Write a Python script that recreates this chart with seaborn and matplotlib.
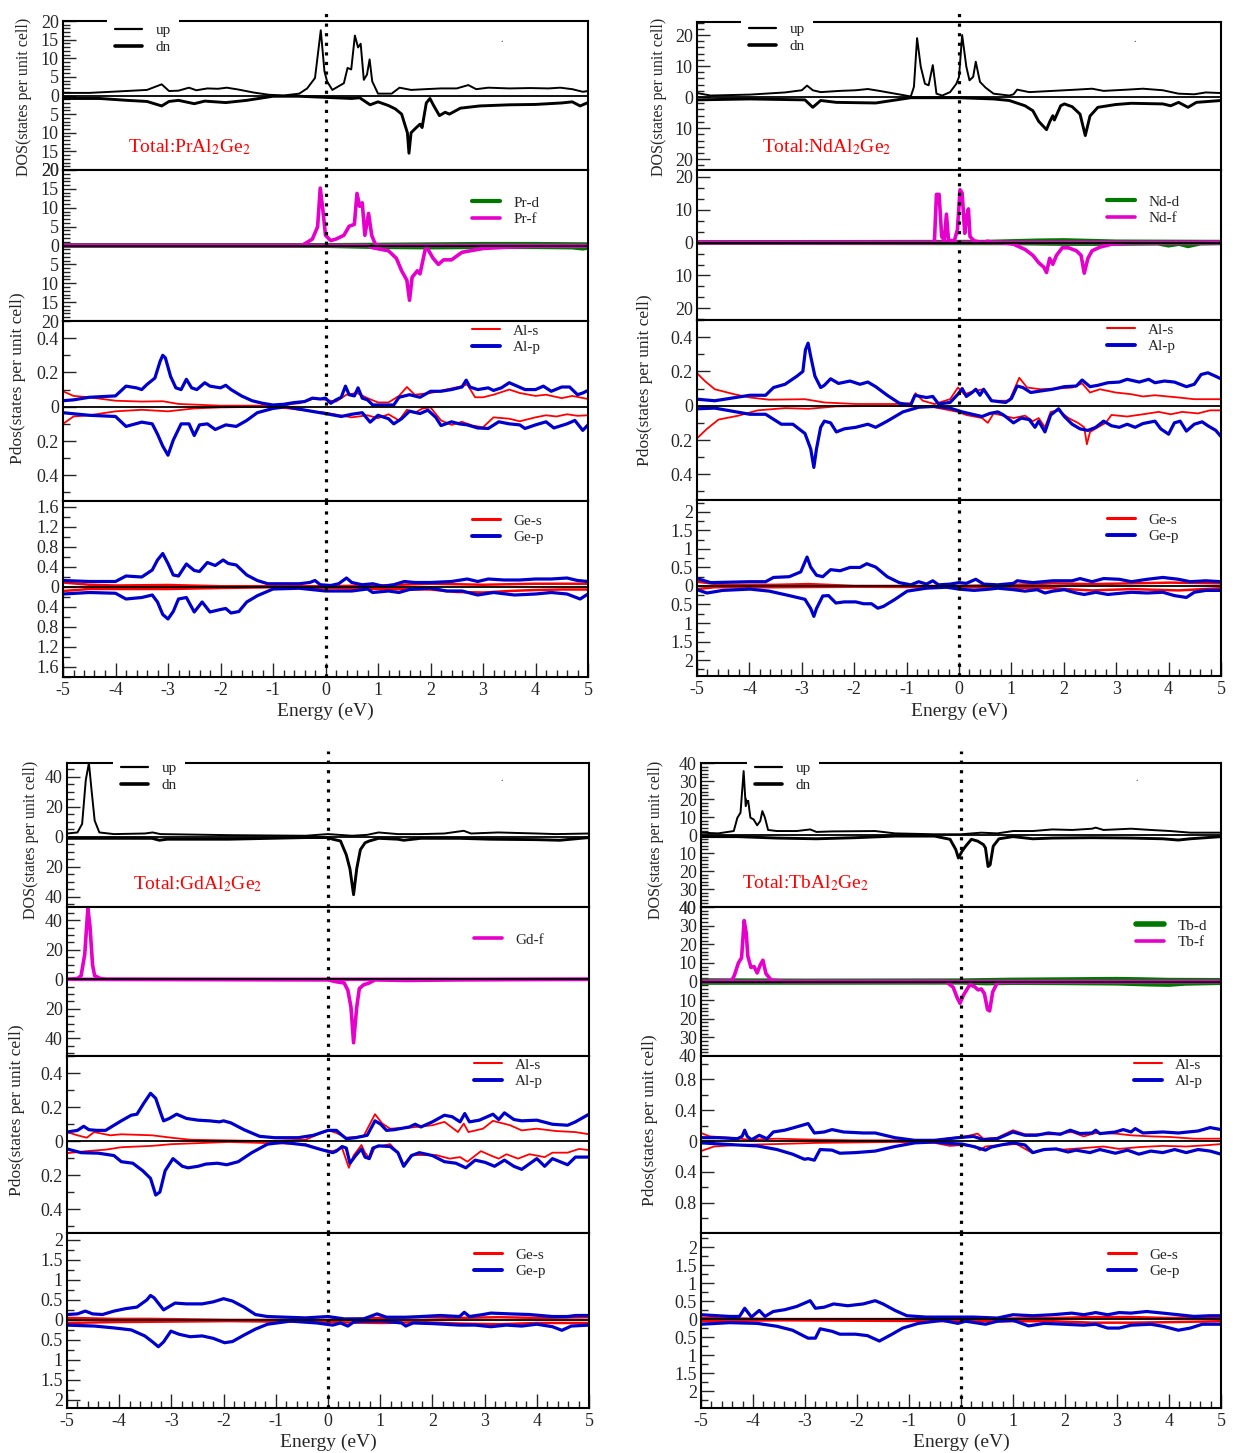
import matplotlib
matplotlib.use("Agg")
import matplotlib.pyplot as plt
from matplotlib.ticker import MultipleLocator, FuncFormatter
from matplotlib.lines import Line2D
import seaborn as sns

sns.set_style("ticks")
plt.rcParams['font.family'] = ['Liberation Serif', 'DejaVu Serif']
plt.rcParams['mathtext.fontset'] = 'stix'
plt.rcParams['axes.unicode_minus'] = False

RED = '#ff0000'
BLUE = '#0000cd'
GREEN = '#007800'
MAG = '#e600cc'

# ---------------- PrAl2Ge2 (energy eV, DOS) ----------------
pr_tot_up = [(-5, 0.7), (-4.5, 0.7), (-3.8, 1.2), (-3.4, 1.5), (-3.12, 3.0), (-2.98, 1.2), (-2.8, 1.3), (-2.6, 2.1),
             (-2.46, 1.4), (-2.25, 1.9), (-2.05, 1.8), (-1.88, 2.1), (-1.66, 1.6), (-1.37, 0.8), (-1.08, 0.2), (-0.8, 0.0),
             (-0.5, 0.5), (-0.35, 1.9), (-0.2, 4.7), (-0.09, 17.5), (-0.02, 6.5), (0.03, 3.8), (0.13, 1.5), (0.24, 2.4),
             (0.35, 3.3), (0.42, 7.4), (0.49, 7.0), (0.56, 16.1), (0.62, 12.9), (0.67, 13.9), (0.73, 4.2), (0.79, 5.6),
             (0.84, 9.7), (0.89, 3.8), (1.0, 0.5), (1.26, 0.5), (1.41, 2.1), (1.63, 1.5), (1.9, 1.7), (2.2, 1.9), (2.5, 1.9),
             (2.72, 2.8), (2.87, 1.7), (3.1, 2.1), (3.5, 1.9), (3.9, 2.0), (4.25, 1.9), (4.47, 2.1), (4.7, 1.7), (4.9, 1.0),
             (5.0, 1.2)]
pr_tot_dn = [(-5, -0.8), (-4.3, -0.8), (-3.78, -1.3), (-3.4, -1.6), (-3.12, -2.8), (-2.98, -1.6), (-2.8, -1.3), (-2.5, -2.2),
             (-2.3, -1.5), (-1.9, -1.9), (-1.5, -1.3), (-1.0, -0.2), (-0.5, -0.2), (0.0, -0.5), (0.5, -0.8), (0.65, -0.6),
             (0.85, -2.5), (1.0, -1.7), (1.2, -2.7), (1.33, -3.6), (1.45, -5.0), (1.52, -8.2), (1.56, -10.0), (1.59, -15.5),
             (1.63, -10.0), (1.73, -8.6), (1.8, -7.7), (1.84, -8.6), (1.92, -2.0), (1.99, -0.8), (2.06, -2.7), (2.17, -5.4),
             (2.28, -4.5), (2.36, -5.0), (2.57, -3.4), (2.94, -2.8), (3.5, -2.5), (4.0, -2.4), (4.5, -2.0), (4.7, -1.7),
             (4.85, -2.8), (5.0, -1.9)]
pr_d_up = [(-5, 0.1), (0, 0.1), (1, 0.2), (2, 0.3), (3, 0.4), (4, 0.4), (5, 0.3)]
pr_d_dn = [(-5, -0.1), (0, -0.1), (1, -0.4), (2, -0.5), (3, -0.4), (4, -0.4), (4.7, -0.5), (4.9, -0.8), (5, -0.6)]
pr_f_up = [(-5, 0), (-0.45, 0), (-0.25, 1.7), (-0.15, 5.0), (-0.1, 15.2), (-0.05, 9.4), (0.0, 2.7), (0.1, 1.3), (0.2, 1.7),
           (0.35, 2.7), (0.45, 5.1), (0.55, 5.6), (0.6, 13.8), (0.65, 10.4), (0.7, 11.3), (0.75, 2.7), (0.82, 8.5),
           (0.88, 2.7), (0.95, 0.3), (1.05, 0), (5, 0)]
pr_f_dn = [(-5, 0), (0.8, 0), (0.9, -0.6), (1.2, -1.4), (1.35, -3.4), (1.45, -6.7), (1.55, -9.2), (1.6, -14.5), (1.65, -8.4),
           (1.75, -6.7), (1.8, -7.5), (1.9, -1.0), (1.95, -1.0), (2.05, -3.4), (2.15, -5.0), (2.25, -3.8), (2.4, -3.8),
           (2.6, -1.8), (3.0, -0.8), (3.5, -0.4), (4.0, -0.2), (5.0, -0.2)]
pr_als_up = [(-5, 0.09), (-4.8, 0.063), (-4.5, 0.055), (-4.0, 0.035), (-3.5, 0.03), (-3.1, 0.032), (-2.8, 0.016), (-2.0, 0.006),
             (-1.0, 0.006), (-0.5, 0.02), (-0.2, 0.05), (0.0, 0.04), (0.2, 0.03), (0.4, 0.07), (0.6, 0.08), (0.8, 0.05),
             (1.0, 0.025), (1.2, 0.025), (1.4, 0.063), (1.55, 0.115), (1.7, 0.07), (2.0, 0.08), (2.3, 0.1), (2.6, 0.12),
             (2.7, 0.13), (2.85, 0.055), (3.0, 0.055), (3.2, 0.07), (3.5, 0.1), (3.7, 0.08), (4.0, 0.063), (4.2, 0.07),
             (4.5, 0.05), (4.7, 0.063), (5.0, 0.045)]
pr_alp_up = [(-5, 0.035), (-4.8, 0.04), (-4.5, 0.055), (-4.0, 0.063), (-3.8, 0.12), (-3.6, 0.11), (-3.5, 0.1), (-3.4, 0.13),
             (-3.25, 0.167), (-3.15, 0.265), (-3.1, 0.3), (-3.05, 0.285), (-2.95, 0.176), (-2.85, 0.11), (-2.75, 0.1),
             (-2.65, 0.16), (-2.55, 0.11), (-2.45, 0.1), (-2.3, 0.14), (-2.2, 0.12), (-2.0, 0.11), (-1.9, 0.125), (-1.8, 0.1),
             (-1.6, 0.063), (-1.4, 0.035), (-1.2, 0.02), (-1.0, 0.01), (-0.8, 0.014), (-0.6, 0.024), (-0.4, 0.03),
             (-0.25, 0.05), (-0.1, 0.045), (0.0, 0.05), (0.1, 0.02), (0.2, 0.04), (0.3, 0.055), (0.38, 0.12), (0.45, 0.07),
             (0.55, 0.063), (0.62, 0.11), (0.7, 0.05), (0.8, 0.04), (0.9, 0.01), (1.3, 0.01), (1.4, 0.055), (1.6, 0.07),
             (1.8, 0.055), (2.0, 0.09), (2.2, 0.09), (2.4, 0.1), (2.6, 0.115), (2.68, 0.155), (2.75, 0.115), (2.9, 0.1),
             (3.1, 0.11), (3.2, 0.095), (3.35, 0.11), (3.5, 0.14), (3.65, 0.12), (3.8, 0.1), (4.0, 0.1), (4.15, 0.12),
             (4.3, 0.09), (4.5, 0.115), (4.65, 0.115), (4.8, 0.07), (4.9, 0.08), (5.0, 0.095)]
pr_als_dn = [(-5, -0.1), (-4.8, -0.057), (-4.5, -0.05), (-4.0, -0.027), (-3.5, -0.018), (-3.0, -0.027), (-2.5, -0.01),
             (-2.0, -0.004), (-1.0, 0.0), (0.0, -0.035), (0.5, -0.062), (0.8, -0.05), (1.0, -0.067), (1.2, -0.044),
             (1.4, -0.08), (1.55, -0.018), (1.7, -0.035), (1.85, -0.01), (2.0, -0.004), (2.2, -0.08), (2.4, -0.106),
             (2.6, -0.088), (2.8, -0.11), (3.0, -0.12), (3.2, -0.062), (3.5, -0.07), (3.7, -0.085), (4.0, -0.062),
             (4.2, -0.05), (4.4, -0.057), (4.6, -0.044), (4.8, -0.053), (5.0, -0.05)]
pr_alp_dn = [(-5, -0.035), (-4.5, -0.05), (-4.0, -0.057), (-3.8, -0.115), (-3.5, -0.09), (-3.3, -0.1), (-3.2, -0.16),
             (-3.1, -0.23), (-3.0, -0.283), (-2.9, -0.195), (-2.75, -0.1), (-2.6, -0.1), (-2.5, -0.168), (-2.4, -0.106),
             (-2.25, -0.1), (-2.1, -0.133), (-1.9, -0.106), (-1.7, -0.115), (-1.5, -0.08), (-1.3, -0.035), (-1.0, -0.01),
             (-0.75, 0.0), (-0.5, -0.014), (-0.2, -0.03), (0.0, -0.04), (0.3, -0.057), (0.5, -0.044), (0.7, -0.035),
             (0.85, -0.09), (1.0, -0.05), (1.2, -0.07), (1.3, -0.1), (1.45, -0.07), (1.6, -0.026), (1.8, -0.04),
             (1.95, -0.02), (2.1, -0.062), (2.2, -0.11), (2.4, -0.088), (2.55, -0.1), (2.7, -0.106), (2.9, -0.124),
             (3.1, -0.127), (3.3, -0.088), (3.5, -0.1), (3.7, -0.106), (3.8, -0.127), (4.0, -0.106), (4.2, -0.088),
             (4.35, -0.124), (4.6, -0.1), (4.75, -0.08), (4.9, -0.138), (5.0, -0.106)]
pr_ges_up = [(-5, 0.09), (-4.5, 0.045), (-4.0, 0.03), (-3.0, 0.04), (-2.0, 0.015), (-1.0, 0.015), (0.0, 0.015), (1.0, 0.03),
             (2.0, 0.065), (3.0, 0.045), (4.0, 0.065), (5.0, 0.065)]
pr_gep_up = [(-5, 0.13), (-4.5, 0.11), (-4.0, 0.11), (-3.8, 0.22), (-3.5, 0.2), (-3.3, 0.34), (-3.2, 0.54), (-3.1, 0.67),
             (-3.0, 0.47), (-2.9, 0.24), (-2.8, 0.22), (-2.65, 0.46), (-2.5, 0.33), (-2.4, 0.31), (-2.25, 0.49), (-2.1, 0.43),
             (-1.95, 0.54), (-1.85, 0.47), (-1.7, 0.44), (-1.5, 0.24), (-1.3, 0.13), (-1.1, 0.065), (-0.5, 0.065),
             (-0.3, 0.09), (-0.2, 0.13), (-0.1, 0.045), (0.1, 0.03), (0.25, 0.065), (0.4, 0.18), (0.5, 0.09), (0.7, 0.045),
             (0.9, 0.065), (1.1, 0.015), (1.3, 0.045), (1.5, 0.11), (1.7, 0.09), (2.0, 0.09), (2.4, 0.11), (2.7, 0.16),
             (2.9, 0.11), (3.1, 0.16), (3.4, 0.14), (3.7, 0.14), (4.0, 0.16), (4.3, 0.16), (4.6, 0.18), (4.8, 0.13),
             (5.0, 0.11)]
pr_ges_dn = [(-5, -0.08), (-4.5, -0.04), (-4.0, -0.04), (-3.0, -0.04), (-2.0, -0.02), (-1.0, -0.005), (0.0, -0.02),
             (1.0, -0.04), (2.0, -0.05), (2.5, -0.1), (3.0, -0.11), (3.5, -0.08), (4.0, -0.06), (4.5, -0.05), (5.0, -0.05)]
pr_gep_dn = [(-5, -0.14), (-4.5, -0.11), (-4.0, -0.125), (-3.8, -0.24), (-3.5, -0.21), (-3.3, -0.16), (-3.2, -0.3),
             (-3.1, -0.55), (-3.0, -0.64), (-2.9, -0.49), (-2.8, -0.24), (-2.65, -0.21), (-2.5, -0.5), (-2.35, -0.3),
             (-2.2, -0.5), (-2.0, -0.45), (-1.9, -0.43), (-1.8, -0.52), (-1.65, -0.49), (-1.5, -0.3), (-1.3, -0.175),
             (-1.0, -0.04), (-0.5, -0.025), (0.0, -0.08), (0.5, -0.08), (0.8, -0.04), (0.9, -0.11), (1.2, -0.08),
             (1.4, -0.11), (1.6, -0.05), (2.0, -0.02), (2.3, -0.08), (2.6, -0.08), (2.9, -0.16), (3.2, -0.11), (3.6, -0.16),
             (4.0, -0.14), (4.3, -0.11), (4.6, -0.14), (4.85, -0.24), (5.0, -0.14)]

# ---------------- NdAl2Ge2 ----------------
nd_tot_up = [(-5, 1.3), (-4.74, 0.5), (-3.99, 0.8), (-3.32, 1.5), (-3.0, 2.2), (-2.9, 3.7), (-2.79, 2.2), (-2.64, 1.6),
             (-2.27, 2.0), (-1.97, 2.2), (-1.74, 2.6), (-1.52, 2.0), (-1.22, 1.1), (-0.92, 0.2), (-0.86, 3.3), (-0.8, 19.0),
             (-0.73, 9.8), (-0.65, 4.3), (-0.58, 3.8), (-0.5, 10.3), (-0.43, 1.1), (-0.32, 0.5), (-0.17, 1.6), (-0.05, 4.3),
             (0.0, 6.5), (0.06, 20.0), (0.14, 9.8), (0.2, 5.4), (0.27, 6.5), (0.32, 11.4), (0.4, 4.9), (0.51, 3.0),
             (0.66, 1.1), (0.96, 0.5), (1.04, 0.9), (1.11, 2.4), (1.34, 1.6), (1.79, 2.0), (2.24, 2.4), (2.54, 2.7),
             (2.76, 2.0), (3.21, 2.4), (3.51, 2.7), (3.89, 2.2), (4.19, 1.1), (4.49, 0.9), (4.71, 1.5), (5.0, 1.3)]
nd_tot_dn = [(-5, -0.9), (-3.99, -0.6), (-2.94, -0.9), (-2.79, -3.3), (-2.64, -1.1), (-2.34, -1.7), (-1.59, -1.9),
             (-0.92, -0.2), (0.0, -0.2), (0.66, -0.6), (0.96, -1.1), (1.26, -2.8), (1.41, -4.4), (1.52, -7.8), (1.67, -10.5),
             (1.73, -8.0), (1.79, -6.0), (1.82, -7.4), (1.94, -2.8), (2.01, -2.2), (2.16, -3.1), (2.31, -5.5), (2.41, -12.4),
             (2.5, -6.1), (2.65, -3.3), (2.99, -2.4), (3.29, -2.0), (3.89, -2.2), (4.04, -2.8), (4.19, -1.7), (4.37, -3.3),
             (4.53, -1.7), (5.0, -1.1)]
nd_d_up = [(-5, 0.1), (0.5, 0.2), (1.0, 0.4), (1.5, 0.6), (2.0, 0.7), (2.5, 0.5), (3.0, 0.3), (5.0, 0.2)]
nd_d_dn = [(-5, -0.1), (1.0, -0.2), (2.0, -0.4), (3.0, -0.4), (3.8, -0.3), (4.0, -0.9), (4.2, -0.4), (4.37, -1.1),
           (4.6, -0.3), (5.0, -0.2)]
nd_f_up = [(-5, 0), (-0.47, 0), (-0.43, 14.6), (-0.38, 14.6), (-0.33, 1.8), (-0.28, 0.7), (-0.24, 8.6), (-0.2, 0.7),
           (-0.09, 0.5), (-0.03, 3.9), (0.02, 16.0), (0.06, 15.0), (0.11, 2.8), (0.15, 8.1), (0.18, 10.2), (0.21, 1.8),
           (0.29, 0.5), (0.44, 0), (0.55, 0.4), (0.65, 0), (5, 0)]
nd_f_dn = [(-5, 0), (0.81, 0), (1.04, -0.5), (1.26, -2.1), (1.41, -3.9), (1.52, -6.1), (1.62, -7.5), (1.67, -9.1),
           (1.73, -4.8), (1.79, -6.6), (1.86, -3.9), (1.97, -1.6), (2.09, -1.6), (2.24, -2.5), (2.33, -3.9), (2.39, -9.3),
           (2.46, -4.8), (2.54, -2.5), (2.69, -1.4), (2.91, -0.5), (3.29, -0.1), (5, 0)]
nd_als_up = [(-5, 0.19), (-4.85, 0.144), (-4.66, 0.096), (-4.29, 0.067), (-3.99, 0.048), (-3.62, 0.035), (-2.94, 0.038),
             (-2.57, 0.019), (-1.97, 0.01), (-1.22, 0.01), (-0.92, 0.015), (-0.83, 0.073), (-0.69, 0.029), (-0.47, 0.01),
             (-0.17, 0.038), (-0.02, 0.106), (0.1, 0.067), (0.29, 0.086), (0.47, 0.096), (0.62, 0.029), (0.96, 0.029),
             (1.15, 0.163), (1.3, 0.106), (1.56, 0.096), (1.86, 0.1), (2.16, 0.106), (2.35, 0.13), (2.5, 0.077),
             (2.69, 0.096), (2.99, 0.077), (3.29, 0.067), (3.51, 0.054), (3.74, 0.061), (4.19, 0.048), (4.49, 0.038),
             (5.0, 0.038)]
nd_alp_up = [(-5, 0.038), (-4.66, 0.029), (-3.99, 0.061), (-3.69, 0.061), (-3.54, 0.106), (-3.32, 0.125), (-3.09, 0.173),
             (-2.98, 0.2), (-2.93, 0.327), (-2.88, 0.365), (-2.83, 0.288), (-2.75, 0.173), (-2.64, 0.106), (-2.57, 0.119),
             (-2.45, 0.157), (-2.3, 0.13), (-2.08, 0.144), (-1.89, 0.125), (-1.74, 0.138), (-1.59, 0.111), (-1.37, 0.061),
             (-1.14, 0.015), (-0.92, 0.004), (-0.84, 0.061), (-0.73, 0.054), (-0.62, 0.048), (-0.5, 0.054), (-0.39, 0.01),
             (-0.17, 0.019), (-0.02, 0.067), (0.06, 0.1), (0.14, 0.054), (0.25, 0.077), (0.32, 0.096), (0.4, 0.061),
             (0.47, 0.096), (0.62, 0.029), (0.89, 0.019), (1.0, 0.042), (1.11, 0.115), (1.22, 0.106), (1.37, 0.077),
             (1.56, 0.086), (1.79, 0.096), (2.01, 0.111), (2.24, 0.115), (2.35, 0.15), (2.5, 0.111), (2.65, 0.119),
             (2.84, 0.134), (3.06, 0.138), (3.21, 0.154), (3.44, 0.138), (3.62, 0.154), (3.74, 0.134), (3.92, 0.144),
             (4.11, 0.138), (4.34, 0.111), (4.49, 0.125), (4.62, 0.182), (4.75, 0.192), (4.86, 0.177), (5.0, 0.157)]
nd_als_dn = [(-5, -0.19), (-4.81, -0.135), (-4.59, -0.081), (-4.21, -0.058), (-3.84, -0.027), (-3.32, -0.014),
             (-2.87, -0.018), (-2.34, -0.004), (-1.22, 0.0), (-0.47, -0.009), (-0.02, -0.036), (0.14, -0.054),
             (0.44, -0.072), (0.55, -0.1), (0.66, -0.045), (1.04, -0.072), (1.26, -0.058), (1.41, -0.09), (1.52, -0.072),
             (1.64, -0.126), (1.75, -0.036), (1.9, -0.027), (2.09, -0.072), (2.27, -0.1), (2.39, -0.126), (2.44, -0.225),
             (2.5, -0.153), (2.65, -0.126), (2.8, -0.1), (2.91, -0.054), (3.21, -0.063), (3.51, -0.05), (3.81, -0.036),
             (4.04, -0.05), (4.26, -0.036), (4.56, -0.045), (4.79, -0.027), (5.0, -0.027)]
nd_alp_dn = [(-5, -0.018), (-4.66, -0.014), (-3.99, -0.05), (-3.69, -0.05), (-3.39, -0.108), (-3.17, -0.108),
             (-2.94, -0.162), (-2.83, -0.252), (-2.77, -0.36), (-2.72, -0.252), (-2.64, -0.126), (-2.57, -0.09),
             (-2.45, -0.1), (-2.34, -0.153), (-2.19, -0.135), (-1.97, -0.126), (-1.74, -0.108), (-1.59, -0.126),
             (-1.37, -0.09), (-1.07, -0.036), (-0.77, -0.009), (-0.47, -0.004), (-0.17, -0.014), (0.06, -0.036),
             (0.44, -0.063), (0.59, -0.045), (0.74, -0.036), (0.85, -0.054), (1.04, -0.1), (1.19, -0.072), (1.34, -0.081),
             (1.45, -0.126), (1.52, -0.09), (1.64, -0.153), (1.75, -0.054), (1.9, -0.018), (2.01, -0.063), (2.16, -0.108),
             (2.31, -0.135), (2.46, -0.144), (2.61, -0.126), (2.76, -0.09), (2.91, -0.117), (3.06, -0.126), (3.21, -0.108),
             (3.36, -0.126), (3.51, -0.104), (3.74, -0.09), (3.85, -0.135), (4.0, -0.166), (4.11, -0.1), (4.22, -0.09),
             (4.34, -0.148), (4.49, -0.108), (4.64, -0.094), (4.75, -0.117), (4.9, -0.144), (5.0, -0.18)]
nd_ges_up = [(-5, 0.115), (-4.51, 0.03), (-3.5, 0.03), (-2.87, 0.05), (-2.0, 0.0), (0.0, 0.0), (1.04, 0.03), (1.79, 0.07),
             (2.54, 0.05), (3.29, 0.07), (4.04, 0.09), (5.0, 0.07)]
nd_gep_up = [(-5, 0.2), (-4.74, 0.09), (-3.99, 0.115), (-3.69, 0.115), (-3.54, 0.23), (-3.24, 0.25), (-3.02, 0.38),
             (-2.9, 0.78), (-2.83, 0.51), (-2.72, 0.29), (-2.6, 0.25), (-2.45, 0.44), (-2.27, 0.41), (-2.08, 0.5),
             (-1.89, 0.5), (-1.76, 0.6), (-1.59, 0.51), (-1.37, 0.25), (-1.14, 0.09), (-0.92, 0.03), (-0.77, 0.115),
             (-0.62, 0.05), (-0.5, 0.14), (-0.39, 0.03), (-0.17, 0.05), (0.0, 0.09), (0.14, 0.07), (0.32, 0.18),
             (0.47, 0.05), (0.74, 0.03), (1.04, 0.07), (1.11, 0.14), (1.41, 0.09), (1.79, 0.14), (2.16, 0.14), (2.31, 0.2),
             (2.54, 0.115), (2.76, 0.2), (3.06, 0.18), (3.29, 0.115), (3.59, 0.18), (3.89, 0.23), (4.19, 0.18),
             (4.41, 0.115), (4.71, 0.14), (5.0, 0.115)]
nd_ges_dn = [(-5, -0.085), (-4.66, -0.034), (-3.5, -0.034), (-2.0, -0.02), (0.0, -0.034), (1.79, -0.06), (2.24, -0.1),
             (2.54, -0.12), (3.29, -0.085), (4.19, -0.12), (5.0, -0.06)]
nd_gep_dn = [(-5, -0.1), (-4.81, -0.19), (-4.51, -0.12), (-3.99, -0.085), (-3.62, -0.14), (-3.24, -0.26), (-2.94, -0.36),
             (-2.83, -0.61), (-2.77, -0.82), (-2.72, -0.61), (-2.6, -0.27), (-2.49, -0.26), (-2.35, -0.46), (-2.19, -0.43),
             (-1.97, -0.43), (-1.82, -0.48), (-1.67, -0.48), (-1.55, -0.6), (-1.44, -0.55), (-1.22, -0.36), (-0.99, -0.14),
             (-0.62, -0.06), (-0.24, -0.034), (0.0, -0.085), (0.29, -0.12), (0.59, -0.085), (0.74, -0.06), (1.04, -0.1),
             (1.26, -0.14), (1.49, -0.1), (1.64, -0.19), (1.79, -0.14), (2.01, -0.1), (2.24, -0.19), (2.39, -0.23),
             (2.61, -0.17), (2.84, -0.23), (3.06, -0.2), (3.29, -0.17), (3.59, -0.19), (3.89, -0.17), (4.11, -0.26),
             (4.34, -0.31), (4.49, -0.17), (4.71, -0.12), (5.0, -0.12)]

# ---------------- GdAl2Ge2 ----------------
gd_tot_up = [(-5, 2.0), (-4.8, 2.7), (-4.71, 8.4), (-4.64, 37.7), (-4.58, 49.0), (-4.53, 31.0), (-4.47, 10.6), (-4.38, 2.7),
             (-4.1, 1.6), (-3.51, 2.0), (-3.36, 2.7), (-3.21, 1.6), (-1.9, 0.9), (-0.43, 0.5), (0.0, 1.6), (0.46, 0.5),
             (0.75, 1.1), (0.97, 2.7), (1.34, 1.6), (1.78, 1.6), (2.23, 2.0), (2.6, 3.8), (2.74, 2.0), (3.26, 2.7),
             (4.0, 2.0), (4.37, 1.6), (5.0, 2.0)]
gd_tot_dn = [(-5, -1.2), (-3.37, -1.2), (-3.23, -2.5), (-3.08, -1.8), (-1.9, -1.8), (-0.43, -0.7), (0.0, -0.7), (0.09, -1.8),
             (0.24, -3.0), (0.35, -12.2), (0.42, -21.5), (0.49, -38.8), (0.55, -21.5), (0.62, -8.8), (0.71, -4.2),
             (0.79, -3.0), (0.97, -1.2), (1.34, -1.8), (1.45, -2.5), (1.78, -1.2), (2.52, -1.2), (3.11, -1.8), (4.0, -2.1),
             (4.44, -2.5), (5.0, -0.7)]
gd_f_up = [(-5, 0), (-4.8, 0.5), (-4.73, 2.4), (-4.66, 17.0), (-4.6, 48.0), (-4.56, 36.0), (-4.51, 9.7), (-4.47, 2.4),
           (-4.36, 0.5), (-4.25, 0), (5, 0)]
gd_f_dn = [(-5, 0), (-0.28, -0.4), (0.0, -0.4), (0.16, -1.7), (0.31, -2.5), (0.38, -7.4), (0.44, -18.9), (0.49, -43.0),
           (0.55, -18.9), (0.6, -6.3), (0.68, -3.8), (0.79, -2.5), (0.9, -0.4), (1.49, -0.8), (2.5, -0.4), (5, 0)]
gd_als_up = [(-5, 0.053), (-4.8, 0.034), (-4.62, 0.02), (-4.48, 0.053), (-4.17, 0.034), (-3.96, 0.04), (-3.37, 0.034),
             (-3.0, 0.02), (-2.64, 0.008), (-1.16, 0.0), (-0.43, 0.008), (-0.13, 0.048), (0.01, 0.063), (0.16, 0.048),
             (0.35, 0.02), (0.68, 0.028), (0.9, 0.158), (1.04, 0.103), (1.19, 0.073), (1.56, 0.079), (2.0, 0.093),
             (2.23, 0.113), (2.49, 0.053), (2.6, 0.103), (2.69, 0.053), (2.97, 0.073), (3.16, 0.119), (3.49, 0.093),
             (3.71, 0.063), (4.0, 0.073), (4.37, 0.059), (4.74, 0.053), (5.0, 0.04)]
gd_alp_up = [(-5, 0.053), (-4.8, 0.063), (-4.68, 0.087), (-4.58, 0.067), (-4.43, 0.063), (-4.26, 0.063), (-4.1, 0.093),
             (-3.96, 0.119), (-3.77, 0.152), (-3.66, 0.158), (-3.53, 0.222), (-3.4, 0.281), (-3.3, 0.251), (-3.19, 0.152),
             (-3.15, 0.119), (-3.04, 0.133), (-2.9, 0.158), (-2.71, 0.133), (-2.49, 0.123), (-2.27, 0.119), (-2.08, 0.113),
             (-2.0, 0.119), (-1.86, 0.107), (-1.61, 0.067), (-1.31, 0.028), (-1.02, 0.02), (-0.57, 0.02), (-0.28, 0.034),
             (0.0, 0.063), (0.16, 0.063), (0.27, 0.034), (0.35, 0.014), (0.53, 0.02), (0.75, 0.034), (0.9, 0.119),
             (1.01, 0.099), (1.12, 0.063), (1.27, 0.067), (1.56, 0.083), (1.67, 0.099), (1.78, 0.083), (2.0, 0.113),
             (2.23, 0.152), (2.38, 0.143), (2.53, 0.113), (2.62, 0.162), (2.71, 0.113), (2.9, 0.123), (3.16, 0.158),
             (3.27, 0.127), (3.38, 0.166), (3.56, 0.127), (3.71, 0.119), (4.0, 0.123), (4.3, 0.099), (4.59, 0.093),
             (4.74, 0.113), (5.0, 0.158)]
gd_als_dn = [(-5, -0.071), (-4.62, -0.059), (-4.25, -0.05), (-3.96, -0.036), (-3.37, -0.028), (-3.0, -0.018), (-1.9, -0.005),
             (-0.43, -0.018), (-0.13, -0.05), (0.09, -0.059), (0.27, -0.041), (0.4, -0.157), (0.49, -0.085), (0.64, -0.023),
             (0.71, -0.068), (0.8, -0.103), (0.9, -0.036), (1.19, -0.018), (1.34, -0.068), (1.45, -0.139), (1.6, -0.082),
             (1.78, -0.082), (2.07, -0.082), (2.33, -0.103), (2.53, -0.094), (2.67, -0.121), (2.93, -0.059), (3.12, -0.085),
             (3.27, -0.103), (3.42, -0.077), (3.64, -0.103), (3.86, -0.077), (4.15, -0.094), (4.3, -0.068), (4.59, -0.068),
             (4.81, -0.046), (5.0, -0.053)]
gd_alp_dn = [(-5, -0.046), (-4.73, -0.068), (-4.4, -0.071), (-4.1, -0.085), (-3.96, -0.121), (-3.74, -0.13), (-3.55, -0.174),
             (-3.4, -0.219), (-3.3, -0.317), (-3.22, -0.299), (-3.12, -0.174), (-2.97, -0.103), (-2.79, -0.148),
             (-2.68, -0.157), (-2.49, -0.148), (-2.34, -0.135), (-2.12, -0.13), (-1.94, -0.139), (-1.72, -0.121),
             (-1.46, -0.068), (-1.16, -0.018), (-0.87, -0.007), (-0.43, -0.023), (-0.13, -0.05), (0.09, -0.068),
             (0.16, -0.059), (0.27, -0.032), (0.35, -0.041), (0.42, -0.13), (0.53, -0.085), (0.64, -0.046), (0.71, -0.094),
             (0.79, -0.103), (0.86, -0.041), (0.97, -0.028), (1.19, -0.032), (1.34, -0.068), (1.45, -0.148), (1.6, -0.085),
             (1.75, -0.068), (2.0, -0.085), (2.23, -0.121), (2.45, -0.13), (2.64, -0.157), (2.82, -0.112), (3.01, -0.125),
             (3.19, -0.148), (3.38, -0.112), (3.56, -0.148), (3.71, -0.166), (4.0, -0.103), (4.15, -0.148), (4.3, -0.103),
             (4.59, -0.139), (4.74, -0.094), (5.0, -0.094)]
gd_ges_up = [(-5, 0.05), (-4.1, 0.025), (-3.4, 0.025), (-1.9, 0.0), (0.0, 0.0), (1.04, 0.05), (1.78, 0.067), (2.52, 0.05),
             (3.27, 0.067), (4.0, 0.05), (5.0, 0.067)]
gd_gep_up = [(-5, 0.134), (-4.8, 0.15), (-4.65, 0.22), (-4.51, 0.15), (-4.32, 0.134), (-4.1, 0.22), (-3.88, 0.28),
             (-3.66, 0.32), (-3.47, 0.5), (-3.4, 0.61), (-3.33, 0.55), (-3.15, 0.25), (-2.93, 0.42), (-2.71, 0.4),
             (-2.41, 0.4), (-2.2, 0.45), (-2.0, 0.53), (-1.83, 0.47), (-1.61, 0.32), (-1.39, 0.134), (-1.16, 0.084),
             (-0.8, 0.067), (-0.43, 0.05), (0.0, 0.084), (0.31, 0.025), (0.68, 0.025), (0.94, 0.15), (1.12, 0.067),
             (1.49, 0.067), (1.78, 0.084), (2.15, 0.11), (2.52, 0.084), (2.61, 0.19), (2.71, 0.084), (2.97, 0.134),
             (3.12, 0.17), (3.49, 0.15), (3.86, 0.134), (4.3, 0.084), (4.59, 0.084), (4.74, 0.11), (5.0, 0.11)]
gd_ges_dn = [(-5, -0.077), (-4.1, -0.054), (-1.9, -0.03), (0.0, -0.054), (1.04, -0.077), (1.78, -0.054), (2.52, -0.092),
             (3.27, -0.108), (4.0, -0.077), (5.0, -0.077)]
gd_gep_dn = [(-5, -0.13), (-4.47, -0.154), (-4.1, -0.2), (-3.77, -0.25), (-3.51, -0.4), (-3.36, -0.55), (-3.25, -0.67),
             (-3.15, -0.55), (-3.01, -0.28), (-2.85, -0.36), (-2.64, -0.42), (-2.41, -0.4), (-2.2, -0.46), (-1.98, -0.57),
             (-1.83, -0.54), (-1.61, -0.38), (-1.39, -0.23), (-1.16, -0.108), (-0.72, -0.03), (-0.21, -0.077),
             (0.09, -0.13), (0.24, -0.077), (0.38, -0.154), (0.49, -0.054), (0.75, -0.03), (1.04, -0.03), (1.41, -0.077),
             (1.49, -0.154), (1.63, -0.077), (2.0, -0.092), (2.52, -0.13), (2.82, -0.13), (3.12, -0.17), (3.42, -0.13),
             (3.71, -0.154), (4.0, -0.108), (4.3, -0.17), (4.48, -0.26), (4.66, -0.154), (5.0, -0.13)]

# ---------------- TbAl2Ge2 ----------------
tb_tot_up = [(-5, 1.3), (-4.67, 0.9), (-4.37, 2.2), (-4.3, 9.6), (-4.24, 12.4), (-4.18, 35.5), (-4.14, 16.0), (-4.1, 20.7),
             (-4.05, 9.6), (-3.99, 8.7), (-3.92, 5.4), (-3.86, 7.8), (-3.82, 13.3), (-3.77, 9.6), (-3.71, 2.8), (-3.54, 2.2),
             (-3.16, 2.2), (-2.9, 3.1), (-2.78, 1.7), (-2.48, 2.0), (-1.65, 2.2), (-1.27, 0.9), (-0.51, 0.4), (0.0, 0.4),
             (0.39, 1.3), (0.7, 0.9), (1.0, 2.2), (1.38, 2.2), (1.76, 3.1), (2.14, 2.8), (2.52, 3.5), (2.59, 4.1),
             (2.74, 2.8), (3.27, 3.5), (3.65, 2.8), (4.03, 2.2), (4.41, 1.3), (5.0, 1.3)]
tb_tot_dn = [(-5, -0.9), (-4.3, -0.9), (-3.54, -1.7), (-2.78, -2.1), (-2.03, -1.5), (-1.27, -0.6), (-0.51, -0.6),
             (-0.21, -2.4), (-0.1, -8.1), (-0.05, -12.8), (0.02, -9.0), (0.09, -6.2), (0.2, -2.4), (0.32, -3.4), (0.43, -5.3),
             (0.47, -7.1), (0.52, -17.5), (0.56, -16.6), (0.62, -6.2), (0.73, -2.1), (1.0, -0.9), (1.38, -2.1), (1.76, -1.7),
             (2.52, -1.5), (3.27, -1.7), (3.88, -2.1), (4.18, -2.8), (4.41, -2.1), (5.0, -0.9)]
tb_d_up = [(-5, 0.3), (-3, 0.1), (0, 0.2), (1, 0.6), (2, 0.8), (3, 1.0), (3.5, 0.8), (4.0, 0.5), (5, 0.4)]
tb_d_dn = [(-5, -0.3), (0, -0.2), (0.5, -0.6), (1, -0.4), (2, -0.5), (3, -0.7), (3.6, -1.2), (4.0, -1.4), (4.3, -0.8),
           (5, -0.4)]
tb_f_up = [(-5, 0), (-4.41, 0.4), (-4.36, 3.2), (-4.28, 10.0), (-4.22, 12.7), (-4.17, 32.7), (-4.13, 26.0), (-4.1, 13.7),
           (-4.04, 7.6), (-3.98, 8.0), (-3.92, 4.6), (-3.86, 8.9), (-3.81, 11.4), (-3.75, 4.2), (-3.65, 0.8), (-3.39, 0),
           (5, 0)]
tb_f_dn = [(-5, 0), (-0.29, 0), (-0.15, -3.1), (-0.08, -8.3), (-0.02, -11.7), (0.05, -7.2), (0.17, -1.7), (0.26, -2.8),
           (0.33, -4.5), (0.39, -4.0), (0.45, -6.5), (0.51, -15.0), (0.55, -15.8), (0.61, -5.6), (0.7, -0.5), (5, 0)]
tb_als_up = [(-5, 0.104), (-4.83, 0.06), (-4.45, 0.043), (-4.07, 0.017), (-3.54, 0.03), (-2.78, 0.017), (-2.03, 0.009),
             (-0.51, 0.009), (-0.14, 0.043), (0.09, 0.06), (0.32, 0.096), (0.43, 0.03), (0.7, 0.043), (1.0, 0.14),
             (1.23, 0.087), (1.76, 0.087), (2.13, 0.117), (2.36, 0.06), (2.59, 0.104), (2.97, 0.096), (3.27, 0.074),
             (3.65, 0.06), (4.03, 0.052), (4.48, 0.03), (5.0, 0.03)]
tb_alp_up = [(-5, 0.043), (-4.67, 0.043), (-4.3, 0.03), (-4.21, 0.06), (-4.16, 0.14), (-4.11, 0.06), (-4.03, 0.017),
             (-3.88, 0.074), (-3.73, 0.03), (-3.61, 0.117), (-3.39, 0.14), (-3.16, 0.183), (-2.94, 0.226), (-2.82, 0.104),
             (-2.63, 0.117), (-2.48, 0.148), (-2.26, 0.117), (-1.88, 0.104), (-1.65, 0.104), (-1.27, 0.043), (-0.89, 0.009),
             (-0.51, 0.009), (-0.06, 0.043), (0.24, 0.06), (0.43, 0.017), (0.7, 0.03), (1.0, 0.117), (1.23, 0.074),
             (1.45, 0.074), (1.68, 0.104), (1.91, 0.087), (2.1, 0.14), (2.29, 0.096), (2.52, 0.104), (2.59, 0.14),
             (2.67, 0.096), (2.97, 0.117), (3.12, 0.148), (3.27, 0.117), (3.35, 0.161), (3.5, 0.104), (3.88, 0.117),
             (4.18, 0.104), (4.56, 0.13), (4.79, 0.174), (5.0, 0.148)]
tb_als_dn = [(-5, -0.13), (-4.75, -0.071), (-4.3, -0.051), (-3.54, -0.039), (-2.78, -0.024), (-1.27, -0.012), (-0.51, -0.024),
             (-0.21, -0.063), (0.02, -0.051), (0.28, -0.071), (0.36, -0.118), (0.47, -0.071), (0.77, -0.051),
             (1.07, -0.039), (1.38, -0.158), (1.6, -0.102), (1.98, -0.11), (2.36, -0.091), (2.74, -0.071), (3.04, -0.102),
             (3.42, -0.079), (3.88, -0.063), (4.33, -0.071), (4.79, -0.051), (5.0, -0.039)]
tb_alp_dn = [(-5, -0.024), (-4.3, -0.051), (-3.92, -0.063), (-3.54, -0.11), (-3.24, -0.17), (-3.01, -0.236), (-2.94, -0.228),
             (-2.82, -0.248), (-2.71, -0.11), (-2.48, -0.118), (-2.33, -0.158), (-2.03, -0.15), (-1.65, -0.13),
             (-1.27, -0.071), (-0.89, -0.024), (-0.51, -0.012), (-0.21, -0.032), (0.02, -0.039), (0.24, -0.071),
             (0.47, -0.118), (0.58, -0.079), (0.77, -0.051), (1.0, -0.024), (1.23, -0.051), (1.38, -0.15), (1.6, -0.11),
             (1.83, -0.102), (2.06, -0.142), (2.21, -0.118), (2.48, -0.15), (2.67, -0.11), (2.97, -0.158), (3.2, -0.118),
             (3.42, -0.17), (3.65, -0.13), (3.88, -0.15), (4.11, -0.11), (4.33, -0.15), (4.56, -0.11), (4.79, -0.13),
             (5.0, -0.17)]
tb_ges_up = [(-5, 0.028), (-3.54, 0.0), (0.0, 0.0), (1.76, 0.028), (2.52, 0.055), (3.27, 0.055), (4.03, 0.028), (5.0, 0.055)]
tb_gep_up = [(-5, 0.12), (-4.45, 0.073), (-4.26, 0.073), (-4.16, 0.3), (-4.03, 0.055), (-3.88, 0.24), (-3.77, 0.073),
             (-3.61, 0.21), (-3.39, 0.26), (-3.16, 0.35), (-2.9, 0.51), (-2.8, 0.3), (-2.63, 0.33), (-2.45, 0.42),
             (-2.18, 0.37), (-1.88, 0.42), (-1.65, 0.51), (-1.5, 0.42), (-1.27, 0.24), (-1.04, 0.092), (-0.67, 0.055),
             (0.0, 0.055), (0.24, 0.055), (0.7, 0.028), (1.0, 0.12), (1.38, 0.092), (1.76, 0.12), (2.13, 0.165),
             (2.36, 0.12), (2.59, 0.18), (2.82, 0.12), (3.04, 0.18), (3.27, 0.165), (3.57, 0.21), (3.88, 0.165),
             (4.18, 0.12), (4.48, 0.073), (4.79, 0.092), (5.0, 0.092)]
tb_ges_dn = [(-5, -0.06), (-3.54, -0.034), (0.0, -0.06), (1.76, -0.06), (2.52, -0.1), (3.27, -0.1), (4.03, -0.085),
             (5.0, -0.06)]
tb_gep_dn = [(-5, -0.144), (-4.45, -0.1), (-3.92, -0.12), (-3.54, -0.2), (-3.24, -0.31), (-3.01, -0.48), (-2.94, -0.53),
             (-2.8, -0.53), (-2.71, -0.27), (-2.48, -0.34), (-2.33, -0.42), (-2.03, -0.42), (-1.8, -0.46), (-1.57, -0.61),
             (-1.35, -0.44), (-1.12, -0.25), (-0.82, -0.12), (-0.36, -0.034), (-0.06, -0.12), (0.09, -0.06), (0.47, -0.144),
             (0.7, -0.06), (1.0, -0.034), (1.3, -0.19), (1.6, -0.12), (1.98, -0.144), (2.36, -0.17), (2.59, -0.144),
             (2.82, -0.25), (3.04, -0.25), (3.27, -0.17), (3.65, -0.144), (3.88, -0.2), (4.18, -0.31), (4.41, -0.25),
             (4.64, -0.144), (5.0, -0.144)]

W, H = 1236, 1453
fig = plt.figure(figsize=(W / 100, H / 100), dpi=100)


def fig_xy(x, y):
    return x / W, 1 - y / H


def add_box(x0, x1, y0, y1):
    return fig.add_axes([x0 / W, 1 - y1 / H, (x1 - x0) / W, (y1 - y0) / H])


def curve(ax, pts, color, lw):
    e = [p[0] for p in pts]
    v = [p[1] for p in pts]
    sns.lineplot(x=e, y=v, ax=ax, color=color, linewidth=lw, estimator=None, sort=False, legend=False)


def legend_at(ax, items, x, y, frame=False):
    handles = [Line2D([], [], color=c, lw=w) for (_, c, w) in items]
    labels = [t for (t, _, _) in items]
    leg = ax.legend(handles, labels, loc='upper left', bbox_to_anchor=fig_xy(x, y),
                    bbox_transform=fig.transFigure, fontsize=11, handlelength=1.8, handletextpad=0.9,
                    labelspacing=0.2, borderpad=0.5 if frame else 0, borderaxespad=0,
                    frameon=frame, fancybox=False)
    if frame:
        leg.get_frame().set_facecolor('white')
        leg.get_frame().set_edgecolor('none')
        leg.get_frame().set_alpha(1)


absfmt = FuncFormatter(lambda v, pos: f"{abs(v):g}")

panels = [
    dict(xr=(63, 588), rows=[(21, 170), (170, 321), (321, 501), (501, 677)],
         lims=[(-20, 20), (-20, 20), (-0.55, 0.5), (-1.8, 1.72)], major=[5, 5, 0.2, 0.4], minor=[1, 1, 0.1, 0.2],
         tot=(pr_tot_up, pr_tot_dn), rare=[('Pr-d', GREEN, 3.0, pr_d_up, pr_d_dn), ('Pr-f', MAG, 2.6, pr_f_up, pr_f_dn)],
         al=(pr_als_up, pr_als_dn, pr_alp_up, pr_alp_dn), ge=(pr_ges_up, pr_ges_dn, pr_gep_up, pr_gep_dn),
         title='Total:PrAl$_2$Ge$_2$', title_xy=(128, 147), leg_ud=(107, 16), leg=[(472, 196), (472, 324), (472, 514)],
         dos_xy=(24, 97), pdos_xy=(18, 378), dot=(502, 40), elabel=711),
    dict(xr=(697, 1221), rows=[(22, 170), (170, 320), (320, 500), (500, 676)],
         lims=[(-23.5, 24.2), (-23.5, 22), (-0.55, 0.5), (-2.43, 2.32)], major=[10, 10, 0.2, 0.5],
         minor=[2, 10 / 3, 0.1, 0.25],
         tot=(nd_tot_up, nd_tot_dn), rare=[('Nd-d', GREEN, 3.0, nd_d_up, nd_d_dn), ('Nd-f', MAG, 2.6, nd_f_up, nd_f_dn)],
         al=(nd_als_up, nd_als_dn, nd_alp_up, nd_alp_dn), ge=(nd_ges_up, nd_ges_dn, nd_gep_up, nd_gep_dn),
         title='Total:NdAl$_2$Ge$_2$', title_xy=(762, 147), leg_ud=(741, 15), leg=[(1107, 195), (1107, 323), (1107, 513)],
         dos_xy=(659, 97), pdos_xy=(645, 380), dot=(1135, 40), elabel=711),
    dict(xr=(67, 589), rows=[(763, 907), (907, 1056), (1056, 1233), (1233, 1408)],
         lims=[(-47, 49), (-52, 49), (-0.54, 0.5), (-2.2, 2.17)], major=[20, 20, 0.2, 0.5], minor=[5, 5, 0.1, 0.25],
         tot=(gd_tot_up, gd_tot_dn), rare=[('Gd-f', MAG, 2.6, gd_f_up, gd_f_dn)],
         al=(gd_als_up, gd_als_dn, gd_alp_up, gd_alp_dn), ge=(gd_ges_up, gd_ges_dn, gd_gep_up, gd_gep_dn),
         title='Total:GdAl$_2$Ge$_2$', title_xy=(133, 884), leg_ud=(113, 754), leg=[(474, 933), (474, 1058), (474, 1248)],
         dos_xy=(31, 840), pdos_xy=(17, 1110), dot=(502, 778), elabel=1442),
    dict(xr=(701, 1221), rows=[(763, 907), (907, 1056), (1056, 1233), (1233, 1408)],
         lims=[(-40, 40), (-40, 40), (-1.19, 1.1), (-2.47, 2.39)], major=[10, 10, 0.4, 0.5], minor=[2, 2, 0.2, 0.25],
         tot=(tb_tot_up, tb_tot_dn), rare=[('Tb-d', GREEN, 4.0, tb_d_up, tb_d_dn), ('Tb-f', MAG, 2.6, tb_f_up, tb_f_dn)],
         al=(tb_als_up, tb_als_dn, tb_alp_up, tb_alp_dn), ge=(tb_ges_up, tb_ges_dn, tb_gep_up, tb_gep_dn),
         title='Total:TbAl$_2$Ge$_2$', title_xy=(742, 883), leg_ud=(747, 754), leg=[(1136, 919), (1134, 1058), (1108, 1248)],
         dos_xy=(656, 840), pdos_xy=(650, 1120), dot=(1137, 778), elabel=1442),
]

for p in panels:
    x0, x1 = p['xr']
    axes = [add_box(x0, x1, r0, r1) for (r0, r1) in p['rows']]
    for i, ax in enumerate(axes):
        ax.set_xlim(-5, 5)
        ax.set_ylim(*p['lims'][i])
        ax.yaxis.set_major_locator(MultipleLocator(p['major'][i]))
        ax.yaxis.set_minor_locator(MultipleLocator(p['minor'][i]))
        ax.yaxis.set_major_formatter(absfmt)
        ax.xaxis.set_major_locator(MultipleLocator(1))
        ax.xaxis.set_minor_locator(MultipleLocator(0.2))
        ax.tick_params(axis='y', which='both', direction='in', left=True, right=False, labelsize=13, pad=3)
        ax.tick_params(axis='y', which='major', length=9, width=1)
        ax.tick_params(axis='y', which='minor', length=5, width=1)
        for s in ax.spines.values():
            s.set_linewidth(1.5)
            s.set_color('black')
        ax.axhline(0, color='black', lw=1.3, zorder=3)
        ext = 1 + 12 / (p['rows'][0][1] - p['rows'][0][0]) if i == 0 else 1
        ax.axvline(0, ymin=0, ymax=ext, color='black', lw=2.3, ls=(0, (1, 2)), zorder=4, clip_on=False)
        ax.set_xlabel('')
        ax.set_ylabel('')
        if i < 3:
            ax.tick_params(axis='x', which='both', bottom=False, top=False, labelbottom=False)
        else:
            ax.tick_params(axis='x', which='both', direction='in', bottom=True, top=False, labelsize=13)
            ax.tick_params(axis='x', which='major', length=10, width=1)
            ax.tick_params(axis='x', which='minor', length=5, width=1)
            ax.xaxis.set_major_formatter(FuncFormatter(lambda v, pos: f"{v:g}"))

    # total DOS
    ax = axes[0]
    curve(ax, p['tot'][0], 'black', 1.4)
    curve(ax, p['tot'][1], 'black', 2.1)
    legend_at(ax, [('up', 'black', 1.6), ('dn', 'black', 2.6)], *p['leg_ud'], frame=True)

    # rare-earth d / f
    ax = axes[1]
    for name, col, w, up, dn in p['rare']:
        curve(ax, up, col, w)
        curve(ax, dn, col, w)
    legend_at(ax, [(n, c, w) for (n, c, w, _, _) in p['rare']], *p['leg'][0])

    # Al s / p
    ax = axes[2]
    s_up, s_dn, p_up, p_dn = p['al']
    curve(ax, s_up, RED, 1.3)
    curve(ax, s_dn, RED, 1.3)
    curve(ax, p_up, BLUE, 2.3)
    curve(ax, p_dn, BLUE, 2.3)
    legend_at(ax, [('Al-s', RED, 1.5), ('Al-p', BLUE, 2.8)], *p['leg'][1])

    # Ge s / p
    ax = axes[3]
    s_up, s_dn, p_up, p_dn = p['ge']
    curve(ax, s_up, RED, 1.8)
    curve(ax, s_dn, RED, 1.8)
    curve(ax, p_up, BLUE, 2.3)
    curve(ax, p_dn, BLUE, 2.3)
    legend_at(ax, [('Ge-s', RED, 2.2), ('Ge-p', BLUE, 2.8)], *p['leg'][2])

    tx, ty = fig_xy(*p['title_xy'])
    fig.text(tx, ty, p['title'], color=RED, fontsize=14, ha='left', va='center')
    dx, dy = fig_xy(*p['dos_xy'])
    fig.text(dx, dy, 'DOS(states per unit cell)', rotation=90, fontsize=11.5, ha='center', va='center')
    px, py = fig_xy(*p['pdos_xy'])
    fig.text(px, py, 'Pdos(states per unit cell)', rotation=90, fontsize=12.5, ha='center', va='center')
    ox, oy = fig_xy(*p['dot'])
    fig.text(ox, oy, '.', fontsize=7, ha='center', va='center')
    ex, ey = fig_xy((x0 + x1) / 2, p['elabel'])
    fig.text(ex, ey, 'Energy (eV)', fontsize=14, ha='center', va='center')

fig.savefig('out.png', dpi=100)
